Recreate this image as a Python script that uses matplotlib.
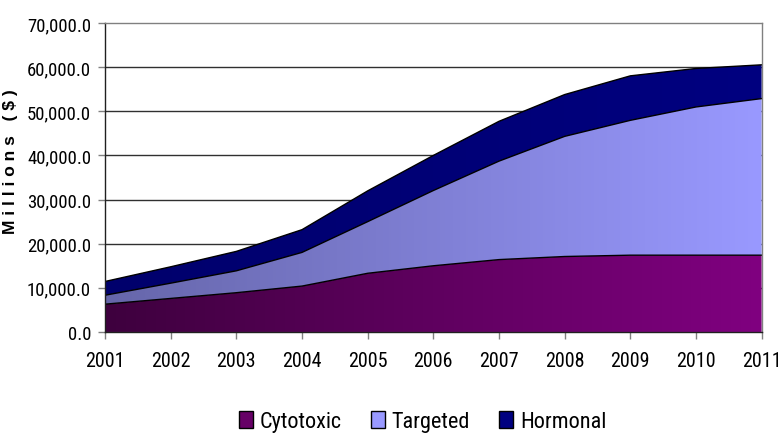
import matplotlib
matplotlib.use("Agg")
import matplotlib.pyplot as plt
import numpy as np
from matplotlib.colors import LinearSegmentedColormap
from matplotlib.patches import Patch
from matplotlib.ticker import FuncFormatter
from matplotlib import font_manager

years = [2001, 2002, 2003, 2004, 2005, 2006, 2007, 2008, 2009, 2010, 2011]
cytotoxic = [6300, 7600, 8900, 10400, 13300, 15000, 16400, 17100, 17400, 17400, 17400]
targeted = [2030, 3460, 4960, 7630, 11700, 17050, 22310, 27220, 30550, 33580, 35480]
hormonal = [3110, 3710, 4400, 5150, 6970, 7950, 9020, 9470, 10080, 8720, 7650]
series_names = ["Cytotoxic", "Targeted", "Hormonal"]

available = {f.name for f in font_manager.fontManager.ttflist}
narrow_font = None
for cand in ["Liberation Sans Narrow", "Arial Narrow", "Roboto Condensed",
             "DejaVu Sans Condensed", "Open Sans Condensed"]:
    if cand in available:
        narrow_font = cand
        break
if narrow_font is not None:
    narrow = [narrow_font, "Liberation Sans", "DejaVu Sans"]
    xtick_size, ytick_size, leg_size = 14.5, 13.5, 16.0
else:
    narrow = ["Liberation Sans", "DejaVu Sans"]
    xtick_size, ytick_size, leg_size = 12.5, 12.0, 14.0

fig = plt.figure(figsize=(7.78, 4.39), dpi=100)
ax = fig.add_axes([0.135, 0.2415, 0.844, 0.7038])

x = np.array(years, dtype=float)
c = np.array(cytotoxic, dtype=float)
t = np.array(targeted, dtype=float)
h = np.array(hormonal, dtype=float)
b0 = np.zeros_like(c)
b1 = c
b2 = c + t
b3 = c + t + h

grads = [("#3e003e", "#800080"), ("#6666aa", "#9999ff"), ("#00006c", "#000080")]
layers = [(b0, b1), (b1, b2), (b2, b3)]

ax.set_xlim(2001, 2011)
ax.set_ylim(0, 70000)

for yv in range(10000, 70000, 10000):
    ax.axhline(yv, color="#303030", lw=1.0, zorder=0.5)

grad = np.linspace(0, 1, 256).reshape(1, -1)
for (lo, hi), (c0, c1) in zip(layers, grads):
    poly = ax.fill_between(x, lo, hi, facecolor="none", edgecolor="none", zorder=1)
    cmap = LinearSegmentedColormap.from_list("g", [c0, c1])
    im = ax.imshow(grad, cmap=cmap, aspect="auto", extent=[2001, 2011, 0, 70000],
                   origin="lower", zorder=1)
    im.set_clip_path(poly.get_paths()[0], transform=ax.transData)
    ax.plot(x, hi, color="black", lw=1.0, zorder=2)

ax.set_xlim(2001, 2011)
ax.set_ylim(0, 70000)
ax.set_xticks(years)
ax.set_xticklabels([str(y) for y in years])
ax.set_yticks(range(0, 70001, 10000))
ax.yaxis.set_major_formatter(FuncFormatter(lambda v, p: f"{v:,.1f}"))

for lbl in ax.get_xticklabels():
    lbl.set_family(narrow)
    lbl.set_fontsize(xtick_size)
    lbl.set_color("black")
for lbl in ax.get_yticklabels():
    lbl.set_family(narrow)
    lbl.set_fontsize(ytick_size)
    lbl.set_color("black")

ax.tick_params(axis="both", direction="out", length=5, color="#808080", width=1)
ax.tick_params(axis="x", pad=9)
ax.tick_params(axis="y", pad=5)

ax.spines["top"].set_color("#808080")
ax.spines["right"].set_color("#808080")
ax.spines["left"].set_color("#202020")
ax.spines["bottom"].set_color("#202020")
for s in ax.spines.values():
    s.set_linewidth(1.0)
    s.set_zorder(3)

ylabel_text = " ".join(list("Millions")) + "   " + " ".join(list("($)"))
ax.set_ylabel(ylabel_text, fontsize=12.5, fontweight="bold",
              family=["Liberation Sans", "DejaVu Sans"])
ax.yaxis.set_label_coords(-0.132, 0.553)

handles = [Patch(facecolor="#660066", edgecolor="black", lw=1),
           Patch(facecolor="#9999ff", edgecolor="black", lw=1),
           Patch(facecolor="#000080", edgecolor="black", lw=1)]
fig.legend(handles, series_names, loc="lower center", bbox_to_anchor=(0.543, -0.033),
           ncol=3, frameon=False, prop={"family": narrow, "size": leg_size},
           handlelength=0.65, handleheight=0.8, handletextpad=0.3, columnspacing=1.3)

fig.savefig("out.png", dpi=100)
